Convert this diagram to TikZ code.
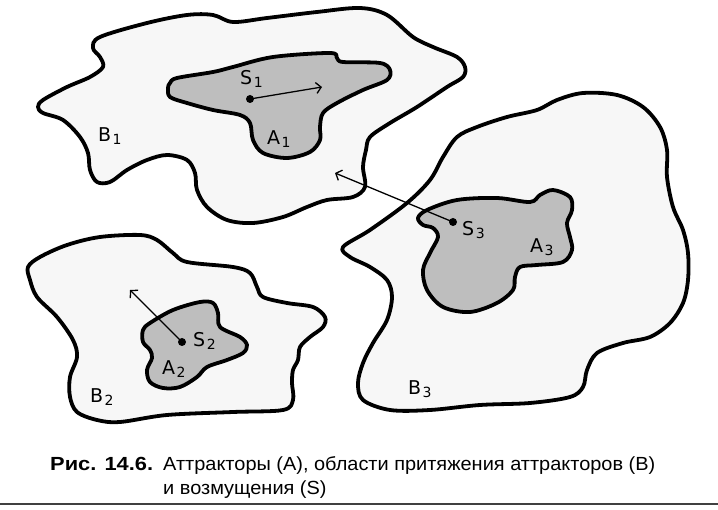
\documentclass[tikz,border=0pt]{standalone}
\usepackage{fontspec}
\setmainfont{Liberation Sans}
\newfontfamily\captfont[FakeStretch=1.05]{Liberation Sans}
\newfontfamily\captbold[FakeStretch=1.15]{Liberation Sans Bold}
\newfontfamily\labfont{DejaVu Sans}
\usetikzlibrary{arrows.meta}
\definecolor{basinc}{HTML}{F7F7F7}
\definecolor{attrc}{HTML}{BEBEBE}
\definecolor{rulec}{HTML}{404040}
\newcommand\sbs[1]{\kern1.5pt\raisebox{-2.5pt}{\fontsize{14}{14}\selectfont #1}}
\begin{document}
\begin{tikzpicture}[x=1pt,y=-1pt,
  basin/.style={draw=black, line width=3.8pt, fill=basinc, line join=round},
  attr/.style={draw=black, line width=3.8pt, fill=attrc, line join=round},
  lab/.style={inner sep=0pt, anchor=base west, font=\fontsize{19}{19}\labfont},
  dotn/.style={circle, fill=black, inner sep=0pt, minimum size=8pt},
  pert/.style={line width=1.3pt, -{Straight Barb[length=5pt,width=11pt,line width=1.3pt]}},
  capt/.style={inner sep=0pt, anchor=base west, font=\fontsize{19}{22}\captfont}]
\useasboundingbox (0,0) rectangle (718,510);
\fill[white] (0,0) rectangle (718,510);
% B1
\draw[basin] plot[smooth cycle, tension=0.55] coordinates {
(93,48) (100,37) (147,23) (187,15) (213,15) (233,22) (267,18) (317,12) (360,8) (387,15) (413,37) (433,47) (457,57) (465,67) (463,77) (447,87) (417,107) (390,123) (370,137) (366,150) (363,167) (365,187) (353,197) (327,200) (307,207) (283,217) (253,223) (227,220) (207,207) (197,190) (195,173) (187,160) (167,155) (147,160) (127,170) (110,182) (97,182) (90,170) (88,153) (80,137) (63,120) (43,113) (38,107) (43,100) (67,87) (90,77) (103,67) (100,57)};
% A1
\draw[attr] plot[smooth cycle, tension=0.55] coordinates {
(170,83) (177,78) (213,72) (233,67) (273,57) (330,53) (337,58) (343,62) (380,63) (390,70) (387,80) (363,90) (337,103) (323,113) (320,127) (320,140) (310,152) (287,158) (263,153) (253,140) (250,123) (240,115) (213,110) (187,103) (170,97) (168,88)};
% B2
\draw[basin] plot[smooth cycle, tension=0.55] coordinates {
(30,280) (28,267) (40,257) (67,245) (100,237) (140,235) (157,240) (173,253) (187,262) (233,267) (250,273) (257,287) (263,297) (287,303) (313,307) (325,317) (323,327) (310,337) (300,347) (298,360) (293,370) (292,383) (293,400) (283,410) (233,412) (167,415) (120,422) (97,420) (77,412) (70,397) (70,377) (77,357) (73,340) (57,317) (37,297)};
% A2
\draw[attr] plot[smooth cycle, tension=0.55] coordinates {
(143,330) (150,323) (173,310) (200,302) (213,303) (218,313) (220,327) (240,337) (247,345) (243,353) (227,360) (207,367) (197,377) (180,387) (163,388) (150,382) (147,370) (152,358) (150,350) (143,342)};
% B3
\draw[basin] plot[smooth cycle, tension=0.55] coordinates {
(343,247) (370,230) (407,203) (430,180) (443,157) (457,137) (477,127) (507,117) (537,110) (557,100) (583,93) (617,95) (643,107) (660,127) (667,150) (667,177) (673,207) (683,230) (688,253) (688,280) (683,303) (670,323) (650,337) (623,343) (597,353) (587,370) (583,387) (570,397) (530,403) (480,405) (430,410) (390,410) (363,400) (358,383) (363,363) (373,343) (387,320) (392,297) (387,280) (370,267) (350,257)};
% A3
\draw[attr] plot[smooth cycle, tension=0.55] coordinates {
(418,218) (427,210) (457,200) (497,198) (530,202) (540,195) (553,190) (570,197) (572,210) (567,223) (570,237) (572,250) (563,262) (537,265) (520,267) (515,277) (513,290) (497,303) (470,312) (443,307) (427,290) (423,270) (430,253) (438,237) (433,228) (423,225)};
% labels
\node[lab] (lS1) at (240,85) {S\sbs{1}};
\node[lab] (lA1) at (267,145) {A\sbs{1}};
\node[lab] (lB1) at (98,142) {B\sbs{1}};
\node[lab] (lS2) at (193,347) {S\sbs{2}};
\node[lab] (lA2) at (162,375) {A\sbs{2}};
\node[lab] (lB2) at (90,403) {B\sbs{2}};
\node[lab] (lS3) at (462,236) {S\sbs{3}};
\node[lab] (lA3) at (530,253) {A\sbs{3}};
\node[lab] (lB3) at (408,395) {B\sbs{3}};
% perturbations
\node[dotn] (s1) at (250,99) {};
\node[dotn] (s2) at (182,342) {};
\node[dotn] (s3) at (453,222) {};
\coordinate (e1) at (322,87);
\coordinate (e2) at (130,290);
\coordinate (e3) at (335,173);
\draw[pert] (s1.center) -- (e1);
\draw[pert] (s2.center) -- (e2);
\draw[pert] (s3.center) -- (e3);
% caption
\node[capt, font=\fontsize{19}{22}\captbold] (cap0) at (50,471) {Рис. 14.6.};
\node[capt] (cap1) at (163,471) {Аттракторы (А), области притяжения аттракторов (В)};
\node[capt] (cap2) at (163,495) {и возмущения (S)};
\draw[rulec, line width=2pt] (0,504) -- (718,504);
\end{tikzpicture}
\end{document}
